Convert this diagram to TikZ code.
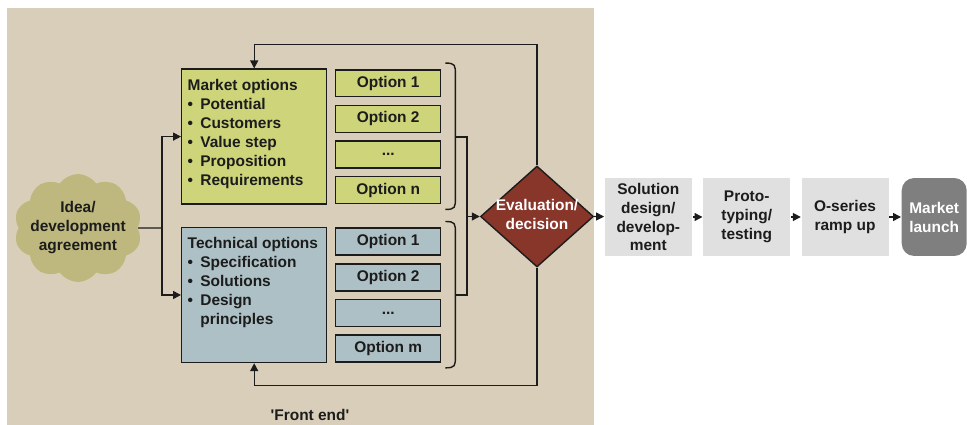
\documentclass[tikz,border=0pt]{standalone}
\usepackage{fontspec}
\setmainfont{Liberation Sans}[Ligatures=TeXOff]
\usetikzlibrary{positioning, arrows.meta, shapes.geometric, shapes.symbols}

\definecolor{frontbg}{RGB}{216,206,185}
\definecolor{cloudfill}{RGB}{190,184,126}
\definecolor{mktfill}{RGB}{205,212,122}
\definecolor{techfill}{RGB}{173,192,197}
\definecolor{evalfill}{RGB}{136,53,42}
\definecolor{stagefill}{RGB}{224,224,224}
\definecolor{launchfill}{RGB}{127,127,127}
\definecolor{ink}{RGB}{28,28,28}

\newcommand{\itm}{\makebox[7.2pt][l]{\textbullet}}

\begin{document}
\begin{tikzpicture}[x=0.02cm, y=-0.02cm, line width=0.8pt, color=ink,
  every node/.style={font=\bfseries\fontsize{8.8}{10.8}\selectfont},
  optbox/.style={draw, minimum width=2.1cm, minimum height=0.54cm, inner sep=0pt},
  bigbox/.style={draw, minimum width=2.9cm, minimum height=2.7cm},
  listtext/.style={anchor=north west, align=left, inner sep=0pt},
  stage/.style={fill=stagefill, minimum width=1.74cm, minimum height=1.56cm, align=center, inner sep=0pt},
  arr/.style={-{Triangle[length=4.5pt,width=4.5pt]}}]
\useasboundingbox (0,0) rectangle (967,425);
\fill[frontbg] (7,8) rectangle (594,425);

% idea cloud
\node[cloud, cloud puffs=10, cloud puff arc=110, fill=cloudfill, minimum width=2.56cm, minimum height=2.16cm, inner sep=0pt] (idea) at (78,228) {};
\node[align=center, inner sep=0pt] (ideatxt) at (idea) {Idea/\\development\\agreement};

% option boxes
\node[bigbox, fill=mktfill] (mkt) at (254.2,136.6) {};
\node[listtext] (mkttxt) at ([shift={(6,10)}]mkt.north west) {Market options\\
  \itm Potential\\ \itm Customers\\ \itm Value step\\ \itm Proposition\\ \itm Requirements};
\node[bigbox, fill=techfill] (tech) at (254.2,295) {};
\node[listtext] (techtxt) at ([shift={(6,10)}]tech.north west) {Technical options\\
  \itm Specification\\ \itm Solutions\\ \itm Design\\ \hspace*{7.2pt}principles};

\node[optbox, fill=mktfill] (mo1) at (388.2,83.3) {Option 1};
\node[optbox, fill=mktfill, below=0.145cm of mo1] (mo2) {Option 2};
\node[optbox, fill=mktfill, below=0.145cm of mo2] (mo3) {...};
\node[optbox, fill=mktfill, below=0.145cm of mo3] (mon) {Option n};
\node[optbox, fill=techfill] (to1) at (388.2,241.7) {Option 1};
\node[optbox, fill=techfill, below=0.145cm of to1] (to2) {Option 2};
\node[optbox, fill=techfill, below=0.145cm of to2] (to3) {...};
\node[optbox, fill=techfill, below=0.145cm of to3] (tom) {Option m};

\coordinate (split) at (162,228);
\draw (idea.east) -- (split);
\draw[arr] (split) |- (mkt.west);
\draw[arr] (split) |- (tech.west);

% brackets
\draw ([shift={(4,-6)}]mo1.north east) .. controls +(10,0) and +(0,-10) .. ([shift={(14,6)}]mo1.north east)
  -- ([shift={(14,-7)}]mon.south east) .. controls +(0,10) and +(10,0) .. ([shift={(4,5)}]mon.south east);
\draw ([shift={(4,-6)}]to1.north east) .. controls +(10,0) and +(0,-10) .. ([shift={(14,6)}]to1.north east)
  -- ([shift={(14,-7)}]tom.south east) .. controls +(0,10) and +(10,0) .. ([shift={(4,5)}]tom.south east);

% evaluation
\node[diamond, fill=evalfill, draw=ink, minimum width=2.26cm, minimum height=2.02cm, inner sep=0pt] (eval) at (537,216.5) {};
\node[align=center, text=white, inner sep=0pt] (evaltxt) at ([yshift=1]eval) {Evaluation/\\decision};

\coordinate (mb) at (455,137);
\coordinate (tb) at (455,295);
\coordinate (join) at (467,216.5);
\draw (mb) -| (join) |- (tb);
\draw[arr] (join) -- (eval.west);
\draw[arr] (eval.north) -- ++(0,-121) -| (mkt.north);
\draw[arr] (eval.south) -- ++(0,118) -| (tech.south);

% stages after the front end
\node[stage] (sol) at (648.3,217) {Solution\\design/\\develop-\\ment};
\node[stage] (proto) at (746.7,217) {Proto-\\typing/\\testing};
\node[stage] (oser) at (845,217) {O-series\\ramp up};
\node[fill=launchfill, rounded corners=0.25cm, minimum width=1.3cm, minimum height=1.56cm, align=center, inner sep=0pt, text=white] (launch) at (934.2,217) {Market\\launch};
\draw[arr] (eval.east) -- (sol);
\draw[arr] (sol) -- (proto);
\draw[arr] (proto) -- (oser);
\draw[arr] (oser) -- (launch);

\node (front) at (310,415) {'Front end'};
\end{tikzpicture}
\end{document}
